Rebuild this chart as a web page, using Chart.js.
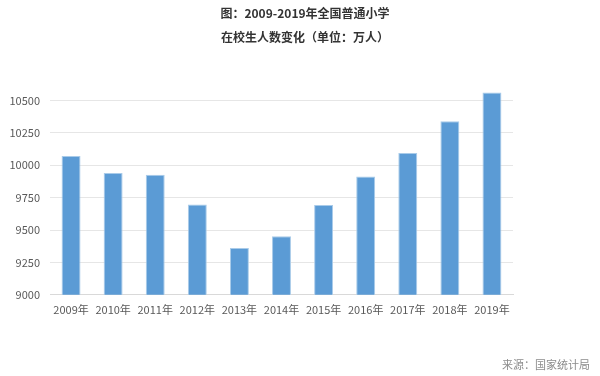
<!DOCTYPE html>
<html>
<head>
<meta charset="utf-8">
<script src="https://cdn.jsdelivr.net/npm/chart.js@4/dist/chart.umd.min.js"></script>
<style>
  html, body { margin: 0; padding: 0; background: #fff; }
  #wrap { width: 600px; height: 376px; }
</style>
</head>
<body>
<div id="wrap"><canvas id="chart"></canvas></div>
<script>
// 年份与在校生人数（万人）
const years = ['2009年', '2010年', '2011年', '2012年', '2013年', '2014年', '2015年', '2016年', '2017年', '2018年', '2019年'];
const students = [10071.47, 9940.70, 9926.37, 9695.90, 9360.55, 9451.07, 9692.18, 9913.01, 10093.70, 10339.25, 10561.24];
const titleLines = ['图：2009-2019年全国普通小学', '在校生人数变化（单位：万人）'];
const sourceText = '来源：国家统计局';

const fontFamily = '"Noto Sans CJK SC", "Noto Sans", sans-serif';

// 标题（整张画布居中）和右下角来源文字
const textPlugin = {
    id: 'textPlugin',
    afterDraw(chart) {
        const ctx = chart.ctx;
        ctx.save();
        ctx.font = 'bold 12px ' + fontFamily;
        ctx.fillStyle = '#333333';
        ctx.textAlign = 'center';
        ctx.textBaseline = 'middle';
        titleLines.forEach((line, i) => {
            ctx.fillText(line, chart.width / 2 + 5, 13 + i * 24);
        });
        ctx.font = '11px ' + fontFamily;
        ctx.fillStyle = '#8c8c8c';
        ctx.textAlign = 'right';
        ctx.fillText(sourceText, 590, 365);
        ctx.restore();
    }
};

const ctx = document.getElementById('chart').getContext('2d');
new Chart(ctx, {
    type: 'bar',
    data: {
        labels: years,
        datasets: [{
            data: students,
            backgroundColor: '#5b9bd5',
            borderColor: '#a9cbe9',
            borderWidth: 1,
            barPercentage: 0.45,
            categoryPercentage: 1
        }]
    },
    options: {
        responsive: true,
        maintainAspectRatio: false,
        animation: false,
        layout: { padding: { left: 0, right: 87, top: 68, bottom: 52 } },
        plugins: {
            legend: { display: false },
            tooltip: { enabled: false },
            title: { display: false }
        },
        scales: {
            x: {
                grid: { display: false, drawTicks: false },
                border: { color: '#d9d9d9' },
                ticks: {
                    color: '#595959',
                    font: { family: fontFamily, size: 11 },
                    padding: 8,
                    maxRotation: 0,
                    autoSkip: false
                }
            },
            y: {
                min: 9000,
                max: 10750,
                grid: { color: '#e6e6e6', drawTicks: false },
                border: { display: false },
                afterBuildTicks(axis) {
                    axis.ticks = axis.ticks.filter(t => t.value <= 10500 && t.value % 250 === 0);
                },
                afterFit(axis) {
                    axis.width = 50;
                },
                ticks: {
                    stepSize: 250,
                    color: '#595959',
                    font: { family: fontFamily, size: 11 },
                    padding: 10,
                    callback: value => String(value)
                }
            }
        }
    },
    plugins: [textPlugin]
});
</script>
</body>
</html>
